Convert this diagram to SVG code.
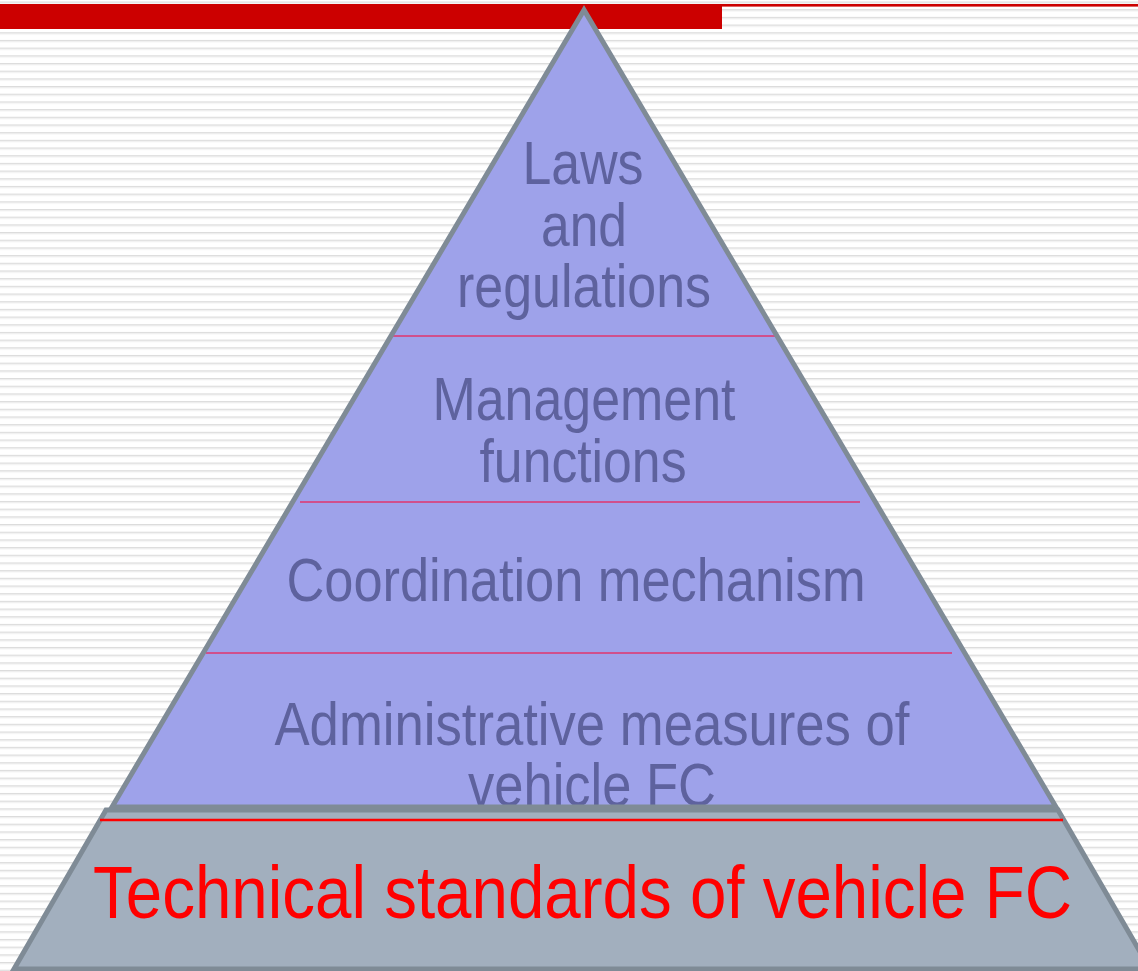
<svg xmlns="http://www.w3.org/2000/svg" width="1138" height="971" viewBox="0 0 1138 971">
  <defs>
    <pattern id="stripes" patternUnits="userSpaceOnUse" x="0" y="1.5" width="20" height="7.684">
      <rect x="0" y="0" width="20" height="1.2" fill="#dcdcdc"/>
      <rect x="0" y="1.2" width="20" height="1" fill="#ebebeb"/>
    </pattern>
  </defs>
  <style>
    .lvl { font-family: "Liberation Sans", Arial, sans-serif; font-size: 62px; fill: #5e629e; text-anchor: middle; }
    .base { font-family: "Liberation Sans", Arial, sans-serif; font-size: 74px; fill: #ff0000; }
    .edge { fill: none; stroke: #7f8b96; stroke-width: 5; stroke-linejoin: miter; }
    .divider { stroke: #d0508c; stroke-width: 2; }
  </style>

  <rect x="0" y="0" width="1138" height="971" fill="#ffffff"/>
  <rect x="0" y="0" width="1138" height="971" fill="url(#stripes)"/>

  <g id="header">
    <rect x="0" y="4" width="722" height="25" fill="#cc0000"/>
    <rect x="722" y="4" width="416" height="2.6" fill="#cc0000"/>
  </g>

  <g id="base-layer">
    <polygon points="106,810 1058,810 1150,969 14,969" fill="#a2afbe" stroke="#7f8b96" stroke-width="5"/>
    <line x1="100" y1="820" x2="1063" y2="820" stroke="#ff0000" stroke-width="2.5"/>
    <text class="base" x="93" y="918" textLength="979" lengthAdjust="spacingAndGlyphs">Technical standards of vehicle FC</text>
  </g>

  <g id="pyramid">
    <polygon points="584,10 112,807 1056,807" fill="#9ea2ea"/>
  </g>

  <g id="connectors">
    <line class="divider" x1="392" y1="336" x2="775" y2="336"/>
    <line class="divider" x1="300" y1="502" x2="860" y2="502"/>
    <line class="divider" x1="206" y1="653" x2="952" y2="653"/>
  </g>

  <g id="layer-laws">
    <text class="lvl" x="583" y="184" textLength="121" lengthAdjust="spacingAndGlyphs">Laws</text>
    <text class="lvl" x="584" y="246" textLength="86" lengthAdjust="spacingAndGlyphs">and</text>
    <text class="lvl" x="584" y="307" textLength="254" lengthAdjust="spacingAndGlyphs">regulations</text>
  </g>

  <g id="layer-management">
    <text class="lvl" x="584" y="420" textLength="303" lengthAdjust="spacingAndGlyphs">Management</text>
    <text class="lvl" x="583" y="482" textLength="207" lengthAdjust="spacingAndGlyphs">functions</text>
  </g>

  <g id="layer-coordination">
    <text class="lvl" x="576" y="601" textLength="579" lengthAdjust="spacingAndGlyphs">Coordination mechanism</text>
  </g>

  <g id="layer-administrative">
    <text class="lvl" x="592" y="745" textLength="635" lengthAdjust="spacingAndGlyphs">Administrative measures of</text>
    <text class="lvl" x="592" y="806" textLength="248" lengthAdjust="spacingAndGlyphs">vehicle FC</text>
  </g>

  <g id="pyramid-outline">
    <polygon class="edge" points="584,10 112,807 1056,807"/>
  </g>
</svg>
